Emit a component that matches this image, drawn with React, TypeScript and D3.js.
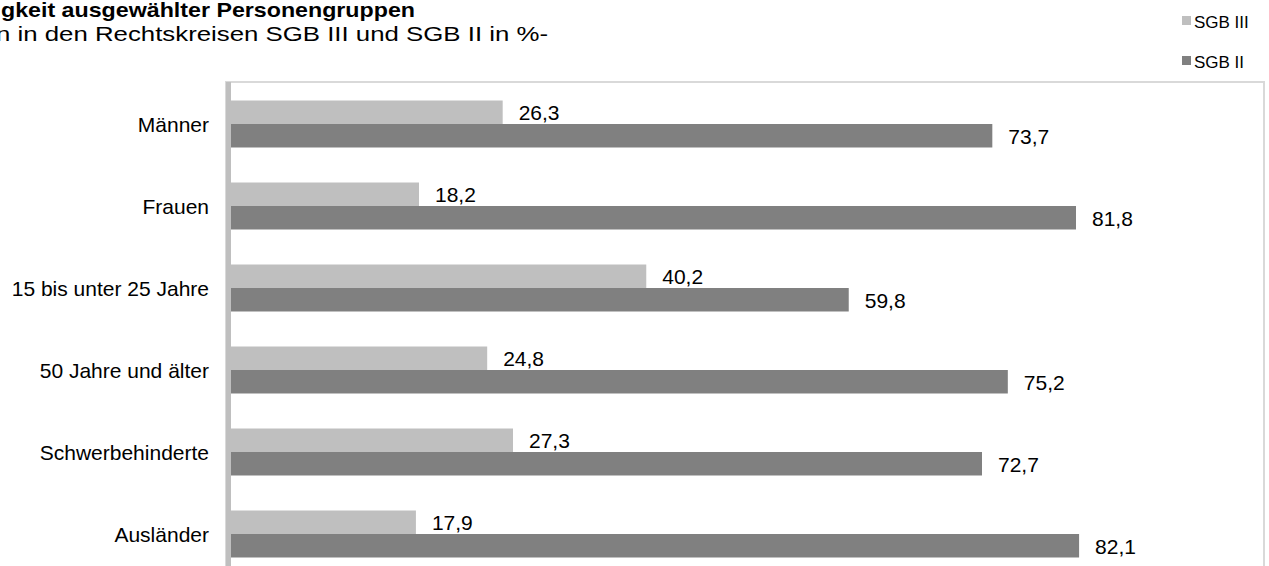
import { useEffect, useRef } from 'react'
import * as d3 from 'd3'

const categories = ['Männer', 'Frauen', '15 bis unter 25 Jahre', '50 Jahre und älter', 'Schwerbehinderte', 'Ausländer']
const seriesNames = ['SGB III', 'SGB II']
const sgb3 = [26.3, 18.2, 40.2, 24.8, 27.3, 17.9]
const sgb2 = [73.7, 81.8, 59.8, 75.2, 72.7, 82.1]
const colors = ['#bfbfbf', '#808080']

const titleText = 'gkeit ausgewählter Personengruppen'
const subtitleText = 'n in den Rechtskreisen SGB III und SGB II in %-'

const FONT = '"Liberation Sans", Arial, Helvetica, sans-serif'

export default function App() {
  const svgRef = useRef<SVGSVGElement>(null)

  useEffect(() => {
    if (!svgRef.current) return
    const svg = d3.select(svgRef.current)
    svg.selectAll('*').remove()

    const width = 1269
    const height = 566
    const plot = { left: 226, top: 82, right: 1264, bottom: 575 }
    const barStart = 231

    svg.attr('width', width).attr('height', height).style('font-family', FONT)

    // title (cut off at the left edge like the source)
    svg.append('text')
      .attr('x', 1)
      .attr('y', 17)
      .attr('textLength', 414)
      .attr('lengthAdjust', 'spacingAndGlyphs')
      .style('font-size', '21px')
      .style('font-weight', 'bold')
      .style('fill', '#000')
      .text(titleText)

    svg.append('text')
      .attr('x', -4)
      .attr('y', 41)
      .attr('textLength', 552)
      .attr('lengthAdjust', 'spacingAndGlyphs')
      .style('font-size', '21px')
      .style('fill', '#000')
      .text(subtitleText)

    // plot frame
    svg.append('rect')
      .attr('x', plot.left)
      .attr('y', plot.top)
      .attr('width', plot.right - plot.left)
      .attr('height', plot.bottom - plot.top)
      .attr('fill', '#fff')
      .attr('stroke', '#d9d9d9')
      .attr('stroke-width', 2)

    const x = d3.scaleLinear().domain([0, 100]).range([barStart, plot.right])

    const y = d3.scaleBand<string>()
      .domain(categories)
      .range([plot.top + 1, plot.bottom])
      .paddingInner(0.427)
      .paddingOuter(0.2135)

    const inner = d3.scaleBand<string>()
      .domain(seriesNames)
      .range([0, y.bandwidth()])

    const rows = categories.map((c, i) => ({ cat: c, values: [sgb3[i], sgb2[i]] }))

    const groups = svg.selectAll('.row')
      .data(rows)
      .enter().append('g')
      .attr('class', 'row')
      .attr('transform', d => `translate(0,${y(d.cat)})`)

    seriesNames.forEach((s, si) => {
      groups.append('rect')
        .attr('x', barStart)
        .attr('y', inner(s)!)
        .attr('width', d => x(d.values[si]) - barStart)
        .attr('height', inner.bandwidth())
        .attr('fill', colors[si])

      groups.append('text')
        .attr('x', d => x(d.values[si]) + 16)
        .attr('y', inner(s)! + inner.bandwidth() / 2 + 8)
        .style('font-size', '21px')
        .style('fill', '#000')
        .text(d => d.values[si].toFixed(1).replace('.', ','))
    })

    // category labels
    groups.append('text')
      .attr('x', 209)
      .attr('y', y.bandwidth() / 2 + 8)
      .attr('text-anchor', 'end')
      .style('font-size', '21px')
      .style('fill', '#000')
      .text(d => d.cat)

    // left axis line
    svg.append('rect')
      .attr('x', plot.left)
      .attr('y', plot.top)
      .attr('width', 5)
      .attr('height', plot.bottom - plot.top)
      .attr('fill', '#bfbfbf')

    // legend
    const legend = svg.append('g').attr('transform', 'translate(1182,16)')
    seriesNames.forEach((s, i) => {
      legend.append('rect')
        .attr('x', 0)
        .attr('y', i * 40)
        .attr('width', 9)
        .attr('height', 9)
        .attr('fill', colors[i])
      legend.append('text')
        .attr('x', 12)
        .attr('y', i * 40 + 12)
        .style('font-size', '17px')
        .style('fill', '#000')
        .text(s)
    })
  }, [])

  return (
    <div style={{ position: 'absolute', left: 0, top: 0, width: 1269, height: 566, overflow: 'hidden', background: '#fff' }}>
      <svg ref={svgRef}></svg>
    </div>
  )
}
